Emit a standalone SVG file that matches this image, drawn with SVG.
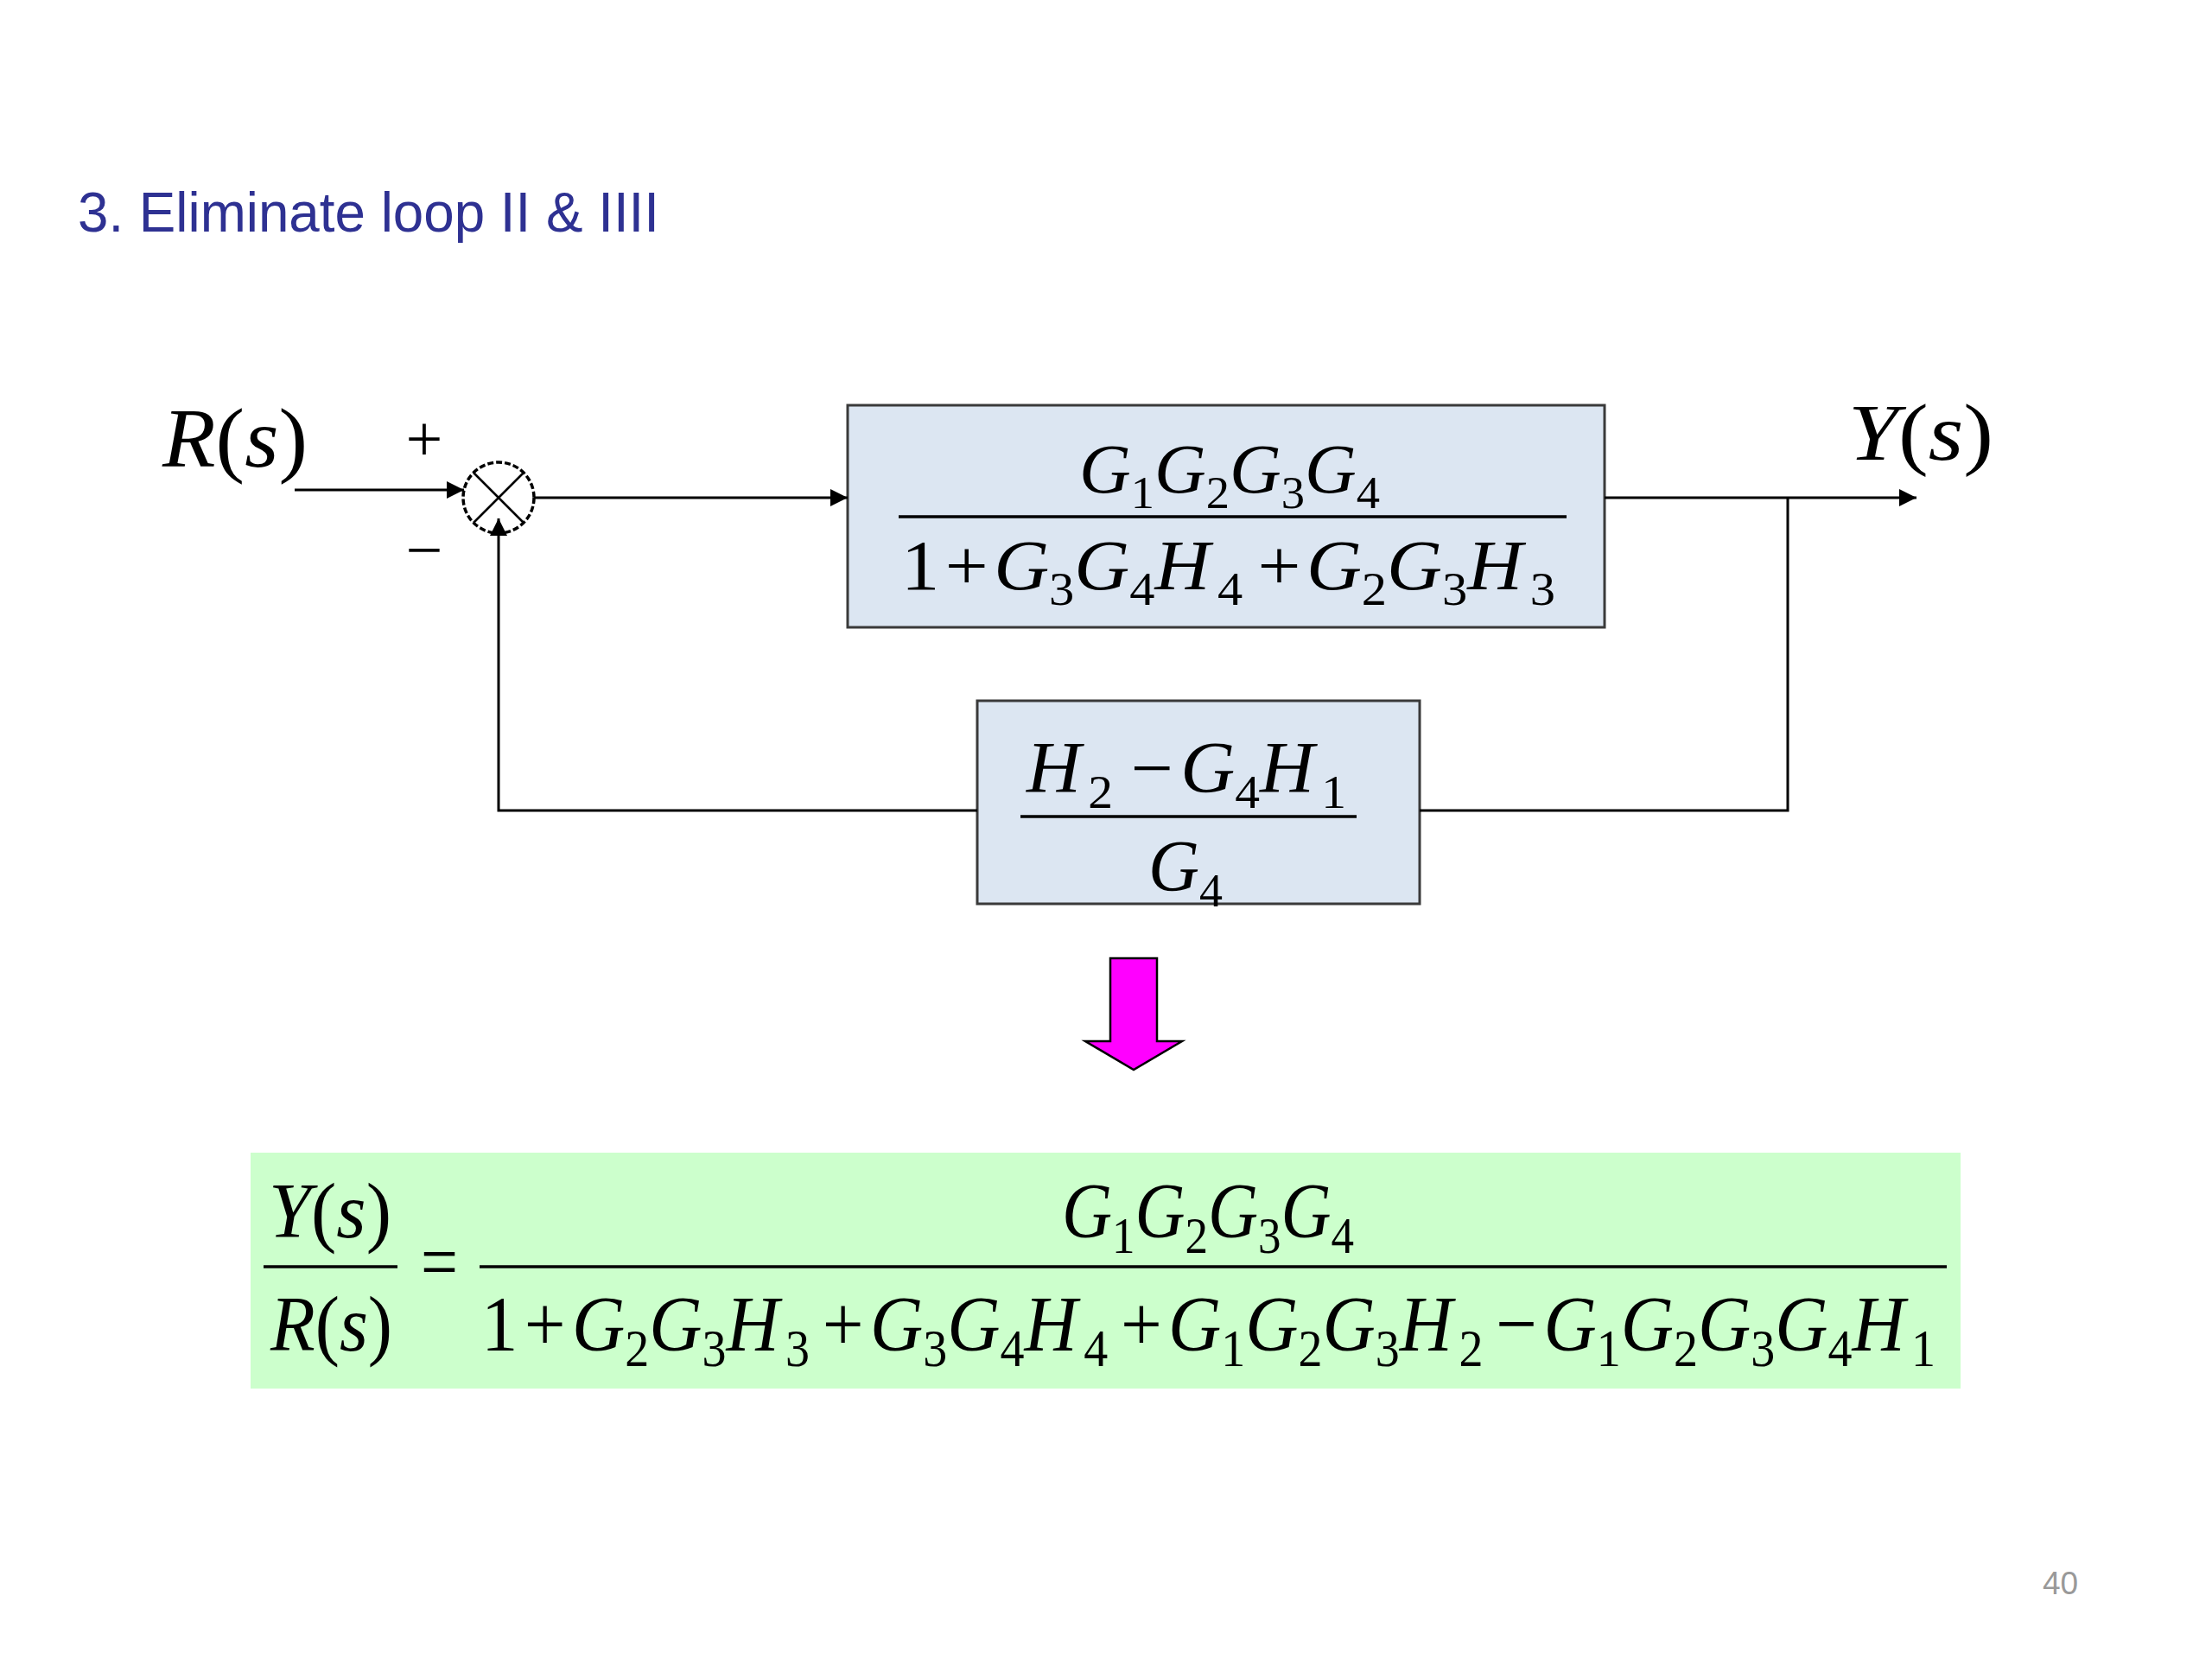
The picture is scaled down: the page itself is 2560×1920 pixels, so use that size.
<svg xmlns="http://www.w3.org/2000/svg" width="2560" height="1920" viewBox="0 0 2560 1920">
<style>
.m{font-family:"Liberation Serif","Times New Roman",serif;fill:#000}
.i{font-style:italic}
.s{font-size:0.66em;font-style:normal}
.box{fill:#DCE6F2;stroke:#3a3a3a;stroke-width:3}
.ln{fill:none;stroke:#000;stroke-width:3}
.fr{stroke:#000;stroke-width:3.5}
</style>
<defs>
<marker id="ah" viewBox="0 0 20 20" refX="20" refY="10" markerWidth="20" markerHeight="20" markerUnits="userSpaceOnUse" orient="auto">
<path d="M0,0 L20,10 L0,20 z" fill="#000"/>
</marker>
</defs>
<rect width="2560" height="1920" fill="#fff"/>
<text id="title" x="90" y="268" font-family="Liberation Sans, Arial, sans-serif" font-size="65" fill="#2E3192" textLength="673" lengthAdjust="spacingAndGlyphs">3. Eliminate loop II &amp; IIII</text>

<g id="input-label">
<text class="m" x="188" y="540" font-size="98" textLength="168" lengthAdjust="spacingAndGlyphs"><tspan class="i">R</tspan>(<tspan class="i">s</tspan>)</text>
</g>

<g id="sum">
<circle cx="577" cy="576" r="41" fill="#fff" stroke="#000" stroke-width="3.5" stroke-dasharray="7 3"/>
<path d="M548,547 L606,605 M606,547 L548,605" stroke="#000" stroke-width="2.5"/>
<text class="m" x="491" y="533" font-size="76" text-anchor="middle" fill="#333">+</text>
<text class="m" x="491" y="662" font-size="76" text-anchor="middle" fill="#333">−</text>
</g>

<g id="forward-block">
<rect class="box" x="981" y="469" width="876" height="257"/>
<text class="m" x="1249" y="570" font-size="80" textLength="348" lengthAdjust="spacingAndGlyphs"><tspan class="i">G</tspan><tspan class="s" dy="18">1</tspan><tspan class="i" dy="-18">G</tspan><tspan class="s" dy="18">2</tspan><tspan class="i" dy="-18">G</tspan><tspan class="s" dy="18">3</tspan><tspan class="i" dy="-18">G</tspan><tspan class="s" dy="18">4</tspan></text>
<line class="fr" x1="1040" y1="598" x2="1813" y2="598"/>
<text class="m" x="1043" y="682" font-size="82" textLength="757" lengthAdjust="spacingAndGlyphs">1<tspan dx="6">+</tspan><tspan class="i" dx="6">G</tspan><tspan class="s" dy="18">3</tspan><tspan class="i" dy="-18">G</tspan><tspan class="s" dy="18">4</tspan><tspan class="i" dy="-18">H</tspan><tspan class="s" dx="8" dy="18">4</tspan><tspan dx="16" dy="-18">+</tspan><tspan class="i" dx="6">G</tspan><tspan class="s" dy="18">2</tspan><tspan class="i" dy="-18">G</tspan><tspan class="s" dy="18">3</tspan><tspan class="i" dy="-18">H</tspan><tspan class="s" dx="8" dy="18">3</tspan></text>
</g>

<g id="output-label">
<text class="m" x="2139" y="532" font-size="94" textLength="168" lengthAdjust="spacingAndGlyphs"><tspan class="i">Y</tspan>(<tspan class="i">s</tspan>)</text>
</g>

<g id="feedback-block">
<rect class="box" x="1131" y="811" width="512" height="235"/>
<text class="m" x="1188" y="917" font-size="84" textLength="370" lengthAdjust="spacingAndGlyphs"><tspan class="i">H</tspan><tspan class="s" dx="8" dy="18">2</tspan><tspan dx="20" dy="-18">−</tspan><tspan class="i" dx="8">G</tspan><tspan class="s" dy="18">4</tspan><tspan class="i" dy="-18">H</tspan><tspan class="s" dx="8" dy="18">1</tspan></text>
<line class="fr" x1="1181" y1="945" x2="1570" y2="945"/>
<text class="m" x="1329" y="1031" font-size="84" textLength="86" lengthAdjust="spacingAndGlyphs"><tspan class="i">G</tspan><tspan class="s" dy="18">4</tspan></text>
</g>

<g id="down-arrow">
<path d="M1285,1109 H1339 V1205 H1368 L1312,1238 L1256,1205 H1285 Z" fill="#FF00FF" stroke="#000" stroke-width="2.5"/>
</g>

<g id="result">
<rect x="290" y="1334" width="1979" height="273" fill="#CCFFCC"/>
<text class="m" x="311" y="1432" font-size="90" textLength="142" lengthAdjust="spacingAndGlyphs"><tspan class="i">Y</tspan>(<tspan class="i">s</tspan>)</text>
<line class="fr" x1="305" y1="1466" x2="460" y2="1466"/>
<text class="m" x="313" y="1563" font-size="90" textLength="141" lengthAdjust="spacingAndGlyphs"><tspan class="i">R</tspan>(<tspan class="i">s</tspan>)</text>
<text class="m" x="487" y="1491" font-size="90" textLength="43" lengthAdjust="spacingAndGlyphs">=</text>
<text class="m" x="1229" y="1432" font-size="90" textLength="338" lengthAdjust="spacingAndGlyphs"><tspan class="i">G</tspan><tspan class="s" dy="18">1</tspan><tspan class="i" dy="-18">G</tspan><tspan class="s" dy="18">2</tspan><tspan class="i" dy="-18">G</tspan><tspan class="s" dy="18">3</tspan><tspan class="i" dy="-18">G</tspan><tspan class="s" dy="18">4</tspan></text>
<line class="fr" x1="555" y1="1466" x2="2253" y2="1466"/>
<text class="m" x="557" y="1563" font-size="92" textLength="1683" lengthAdjust="spacingAndGlyphs">1<tspan dx="8">+</tspan><tspan class="i" dx="8">G</tspan><tspan class="s" dy="18">2</tspan><tspan class="i" dy="-18">G</tspan><tspan class="s" dy="18">3</tspan><tspan class="i" dy="-18">H</tspan><tspan class="s" dx="8" dy="18">3</tspan><tspan dx="16" dy="-18">+</tspan><tspan class="i" dx="8">G</tspan><tspan class="s" dy="18">3</tspan><tspan class="i" dy="-18">G</tspan><tspan class="s" dy="18">4</tspan><tspan class="i" dy="-18">H</tspan><tspan class="s" dx="8" dy="18">4</tspan><tspan dx="16" dy="-18">+</tspan><tspan class="i" dx="8">G</tspan><tspan class="s" dy="18">1</tspan><tspan class="i" dy="-18">G</tspan><tspan class="s" dy="18">2</tspan><tspan class="i" dy="-18">G</tspan><tspan class="s" dy="18">3</tspan><tspan class="i" dy="-18">H</tspan><tspan class="s" dx="8" dy="18">2</tspan><tspan dx="16" dy="-18">−</tspan><tspan class="i" dx="8">G</tspan><tspan class="s" dy="18">1</tspan><tspan class="i" dy="-18">G</tspan><tspan class="s" dy="18">2</tspan><tspan class="i" dy="-18">G</tspan><tspan class="s" dy="18">3</tspan><tspan class="i" dy="-18">G</tspan><tspan class="s" dy="18">4</tspan><tspan class="i" dy="-18">H</tspan><tspan class="s" dx="8" dy="18">1</tspan></text>
</g>

<text id="page-number" x="2364" y="1845" font-family="Liberation Sans, Arial, sans-serif" font-size="37" fill="#999">40</text>

<g id="connectors">
<path class="ln" d="M341,567 H537" marker-end="url(#ah)"/>
<path class="ln" d="M618,576 H981" marker-end="url(#ah)"/>
<path class="ln" d="M1857,576 H2218" marker-end="url(#ah)"/>
<path class="ln" d="M2069,576 V938 H1643"/>
<path class="ln" d="M1131,938 H577 V600" marker-end="url(#ah)"/>
</g>
</svg>
